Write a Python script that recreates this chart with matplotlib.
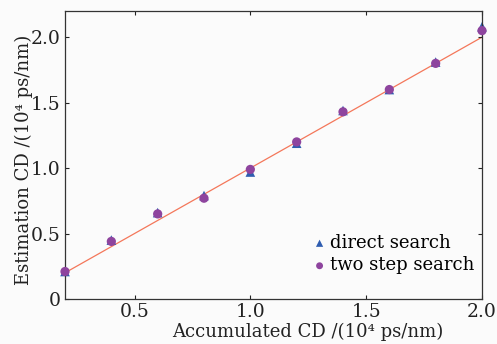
import matplotlib
matplotlib.use("Agg")
import matplotlib.pyplot as plt

accumulated = [0.2, 0.4, 0.6, 0.8, 1.0, 1.2, 1.4, 1.6, 1.8, 2.0]
direct_search = [0.21, 0.45, 0.66, 0.79, 0.97, 1.19, 1.44, 1.60, 1.81, 2.08]
two_step_search = [0.21, 0.44, 0.65, 0.77, 0.99, 1.20, 1.43, 1.60, 1.80, 2.05]
ideal_x = [0.2, 2.0]
ideal_y = [0.2, 2.0]

plt.rcParams['font.family'] = ['DejaVu Serif']

fig = plt.figure(figsize=(4.97, 3.44), dpi=100, facecolor='#fbfbfb')
ax = fig.add_axes([65/497, 1-299/344, (482-65)/497, (299-11)/344])
ax.set_facecolor('#fbfbfb')

ax.plot(ideal_x, ideal_y, color='#f4775a', lw=0.9, zorder=1)
ax.scatter(accumulated, direct_search, marker='^', s=48, color='#2f5db0', zorder=2,
           label='direct search', edgecolors='none', clip_on=False)
ax.scatter(accumulated, two_step_search, marker='o', s=44, color='#8e449e', zorder=3,
           label='two step search', edgecolors='none', clip_on=False)

ax.set_xlim(0.2, 2.0)
ax.set_ylim(0, 2.2)
ax.set_xticks([0.5, 1.0, 1.5, 2.0])
ax.set_xticklabels(['0.5', '1.0', '1.5', '2.0'])
ax.set_yticks([0, 0.5, 1.0, 1.5, 2.0])
ax.set_yticklabels(['0', '0.5', '1.0', '1.5', '2.0'])
ax.tick_params(direction='in', length=3, width=0.8, top=True, right=True, labelsize=13.5, colors='#222222', pad=3)
for s in ax.spines.values():
    s.set_color('#333333')
    s.set_linewidth(0.9)

ax.set_xlabel('Accumulated CD /(10⁴ ps/nm)', fontsize=13, color='#222222')
ax.set_ylabel('Estimation CD /(10⁴ ps/nm)', fontsize=13, color='#222222')
ax.xaxis.set_label_coords(0.583, -0.083)
ax.yaxis.set_label_coords(-0.077, 0.483)

leg = ax.legend(loc='lower right', bbox_to_anchor=(1.0, 0.06), frameon=False, fontsize=13,
                handletextpad=0.0, markerscale=0.75, borderaxespad=0.0, labelspacing=0.25,
                handlelength=1.2)

fig.savefig('out.png', dpi=100, facecolor=fig.get_facecolor())
